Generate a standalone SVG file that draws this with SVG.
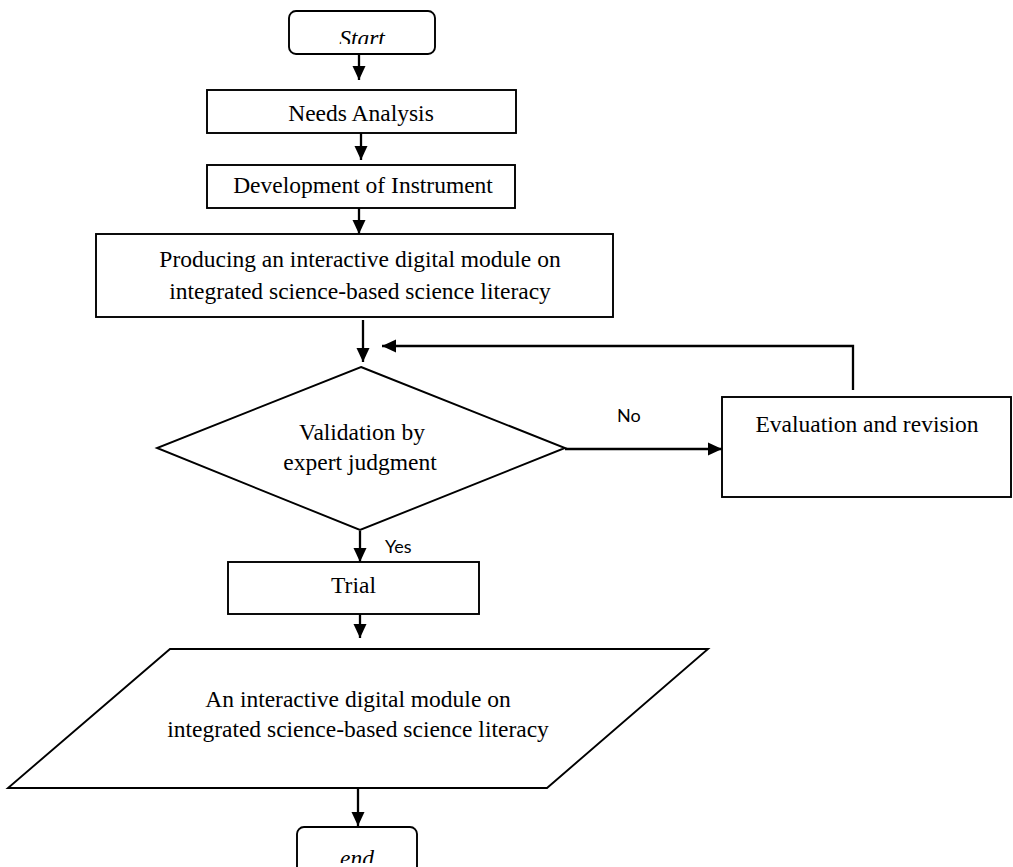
<svg xmlns="http://www.w3.org/2000/svg" width="1013" height="867" viewBox="0 0 1013 867">
<style>
.box{fill:#fff;stroke:#000;stroke-width:1.9}
.t{font-family:"Liberation Serif","Times New Roman",serif;font-size:23.5px;fill:#000;text-anchor:middle}
.it{font-style:italic}
.lbl{font-family:Lato,"Liberation Sans",sans-serif;font-size:18px;fill:#000}
.c{fill:none;stroke:#000;stroke-width:2.3}
</style>
<defs>
<marker id="ah" markerUnits="userSpaceOnUse" markerWidth="14" markerHeight="14" viewBox="0 0 14 14" refX="14" refY="7" orient="auto">
<path d="M0,0.5 L14,7 L0,13.5 z" fill="#000"/>
</marker>
<clipPath id="clipStart"><rect x="280" y="0" width="170" height="44"/></clipPath>
<clipPath id="clipEnd"><rect x="280" y="820" width="160" height="43"/></clipPath>
</defs>
<rect width="1013" height="867" fill="#fff"/>
<g id="connectors">
<line class="c" x1="359" y1="54" x2="359" y2="80" marker-end="url(#ah)"/>
<line class="c" x1="361" y1="133" x2="361" y2="160" marker-end="url(#ah)"/>
<line class="c" x1="359" y1="208" x2="359" y2="234" marker-end="url(#ah)"/>
<line class="c" x1="363" y1="320" x2="363" y2="362" marker-end="url(#ah)"/>
<polyline class="c" points="853,390 853,346 382,346" marker-end="url(#ah)"/>
<line class="c" x1="565" y1="449" x2="722" y2="449" marker-end="url(#ah)"/>
<line class="c" x1="360" y1="531" x2="360" y2="562" marker-end="url(#ah)"/>
<line class="c" x1="360" y1="614" x2="360" y2="638" marker-end="url(#ah)"/>
<line class="c" x1="358" y1="788" x2="358" y2="826" marker-end="url(#ah)"/>
<text class="lbl" x="617" y="422">No</text>
<text class="lbl" x="385" y="553">Yes</text>
</g>
<g id="start">
<rect class="box" x="289" y="11" width="146" height="43" rx="7"/>
<text class="t it" x="362" y="45.5" clip-path="url(#clipStart)">Start</text>
</g>
<g id="needs">
<rect class="box" x="207" y="90" width="309" height="43"/>
<text class="t" x="361" y="121">Needs Analysis</text>
</g>
<g id="development">
<rect class="box" x="207" y="165" width="308" height="43"/>
<text class="t" x="363" y="193">Development of Instrument</text>
</g>
<g id="producing">
<rect class="box" x="96" y="234" width="517" height="83"/>
<text class="t" x="360" y="267">Producing an interactive digital module on</text>
<text class="t" x="360" y="299">integrated science-based science literacy</text>
</g>
<g id="validation">
<polygon class="box" points="361,367 565,448 360,530 157,448"/>
<text class="t" x="362" y="440">Validation by</text>
<text class="t" x="360" y="470">expert judgment</text>
</g>
<g id="evaluation">
<rect class="box" x="722" y="397" width="289" height="100"/>
<text class="t" x="867" y="432">Evaluation and revision</text>
</g>
<g id="trial">
<rect class="box" x="228" y="562" width="251" height="52"/>
<text class="t" x="353.5" y="593">Trial</text>
</g>
<g id="output">
<polygon class="box" points="170,649 708,649 547,788 8,788"/>
<text class="t" x="358" y="707">An interactive digital module on</text>
<text class="t" x="358" y="737">integrated science-based science literacy</text>
</g>
<g id="end">
<rect class="box" x="297" y="827" width="120" height="60" rx="7"/>
<text class="t it" x="357" y="866" clip-path="url(#clipEnd)">end</text>
</g>
</svg>
